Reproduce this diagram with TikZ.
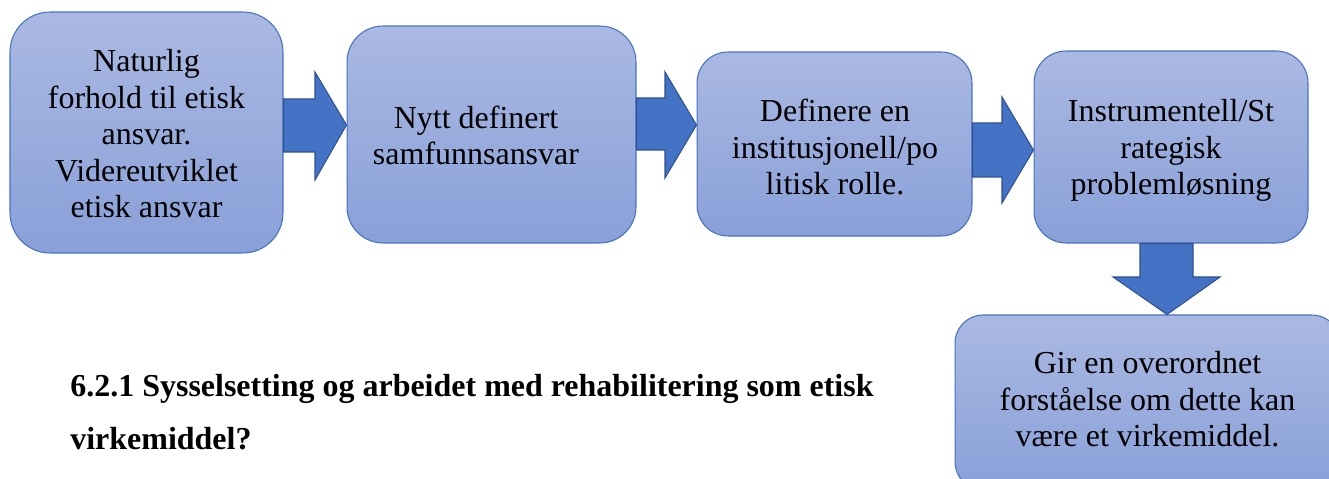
\documentclass[tikz,border=0pt]{standalone}
\usepackage{fontspec}
\setmainfont{Liberation Serif}
\usetikzlibrary{calc}

\definecolor{boxtop}{RGB}{170,185,226}
\definecolor{boxbot}{RGB}{137,160,216}
\definecolor{boxline}{RGB}{68,114,196}
\definecolor{arrfill}{RGB}{68,114,196}
\definecolor{arrline}{RGB}{47,82,143}

\tikzset{
  stagebox/.style={draw=boxline, line width=0.6pt, top color=boxtop,
    bottom color=boxbot, inner sep=0pt},
  stagetext/.style={align=center, anchor=south, inner sep=0pt, text depth=0pt,
    font=\fontsize{18.2}{20.8}\selectfont},
  blockarr/.style={fill=arrfill, draw=arrline, line width=0.6pt, line join=miter}
}

\begin{document}
\begin{tikzpicture}[x=0.02cm, y=-0.02cm]
    \useasboundingbox (0,0) rectangle (1329,479);
    \clip (0,0) rectangle (1329,479);
    % stages
    \path (146.5,132.5) node [stagebox, minimum width=5.46cm, minimum height=4.82cm,
	rounded corners=0.8cm] (natural) {};
    \path (491.5,134.5) node [stagebox, minimum width=5.78cm, minimum height=4.34cm,
	rounded corners=0.72cm] (social) {};
    \path (834.5,144) node [stagebox, minimum width=5.5cm, minimum height=3.68cm,
	rounded corners=0.62cm] (political) {};
    \path (1171,147) node [stagebox, minimum width=5.48cm, minimum height=3.84cm,
	rounded corners=0.64cm] (strategic) {};
    \path (1147.5,402.5) node [stagebox, minimum width=7.7cm, minimum height=3.5cm,
	rounded corners=0.56cm] (overview) {};
    % block arrows
    \draw [blockarr] (natural.east |- 0,99) -- (315,99) -- (315,72)
	-- (social.west |- 0,125) -- (315,180) -- (315,152)
	-- (natural.east |- 0,152) -- cycle;
    \draw [blockarr] (social.east |- 0,98) -- (665,98) -- (665,72)
	-- (political.west |- 0,125) -- (665,178) -- (665,150)
	-- (social.east |- 0,150) -- cycle;
    \draw [blockarr] (political.east |- 0,123) -- (1002,123) -- (1002,97)
	-- (strategic.west |- 0,150) -- (1002,203) -- (1002,177)
	-- (political.east |- 0,177) -- cycle;
    \draw [blockarr] (1140,0 |- strategic.south) -- (1140,277) -- (1113,277)
	-- (1167,0 |- overview.north) -- (1220,277) -- (1193,277)
	-- (1193,0 |- strategic.south) -- cycle;
    % texts
    \path (146.5,218) node [stagetext] (naturaltxt)
	{Naturlig\\forhold til etisk\\ansvar.\\Videreutviklet\\etisk ansvar};
    \path (476,165) node [stagetext] (socialtxt)
	{Nytt definert\\samfunnsansvar};
    \path (835,195) node [stagetext] (politicaltxt)
	{Definere en\\institusjonell/po\\litisk rolle.};
    \path (1171,195) node [stagetext] (strategictxt)
	{Instrumentell/St\\rategisk\\problemløsning};
    \path (1147.5,447) node [stagetext] (overviewtxt)
	{Gir en overordnet\\forståelse om dette kan\\være et virkemiddel.};
    \path (70,450) node [anchor=south west, align=left, inner sep=0pt, text depth=0pt,
	font=\fontsize{18.2}{30.2}\selectfont\bfseries] (heading)
	{6.2.1 Sysselsetting og arbeidet med rehabilitering som etisk\\virkemiddel?};
\end{tikzpicture}
\end{document}
